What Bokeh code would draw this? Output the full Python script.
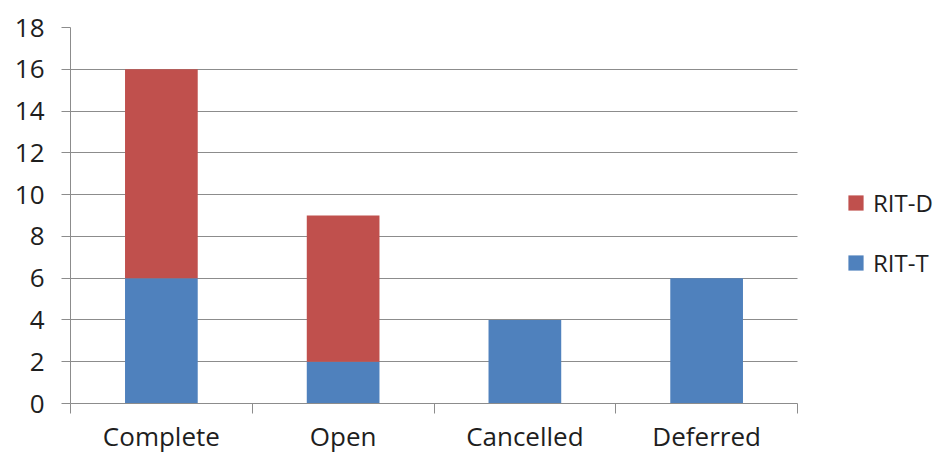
from bokeh.plotting import figure
from bokeh.models import Range1d, FixedTicker, Legend, LegendItem
from bokeh.embed import file_html
from bokeh.resources import INLINE

# Request counts by status, split by request type
categories = ["Complete", "Open", "Cancelled", "Deferred"]
rit_t = [6, 2, 4, 6]
rit_d = [10, 7, 0, 0]
y_ticks = list(range(0, 19, 2))

BLUE = "#4F81BD"
RED = "#C0504D"
GRID = "#8C8C8C"
TEXT = "#1E1E1E"
FONT = "Open Sans"

n = len(categories)
x_pos = [i + 0.5 for i in range(n)]
data = {"x": x_pos, "RIT-T": rit_t, "RIT-D": rit_d}

# The frame runs to the right edge so the legend can sit beside the bars;
# axis and grid lines are bounded to the category span.
PLOT_W, FRAME_LEFT, AREA_RIGHT = 942, 70, 797
x_end = n * (PLOT_W - FRAME_LEFT) / (AREA_RIGHT - FRAME_LEFT)

p = figure(
    width=PLOT_W, height=456,
    x_range=Range1d(0, x_end),
    y_range=Range1d(0, 18),
    output_backend="svg", toolbar_location=None,
    min_border_left=FRAME_LEFT, min_border_right=0,
    min_border_top=27, min_border_bottom=53,
)
p.outline_line_color = None
p.background_fill_color = "white"
p.border_fill_color = "white"

renderers = p.vbar_stack(
    ["RIT-T", "RIT-D"], x="x", width=0.4, source=data,
    color=[BLUE, RED], line_color=None,
)

# y axis
p.yaxis.ticker = FixedTicker(ticks=y_ticks)
p.yaxis.axis_line_color = GRID
p.yaxis.major_tick_line_color = GRID
p.yaxis.major_tick_out = 9
p.yaxis.major_tick_in = 0
p.yaxis.minor_tick_line_color = None
p.yaxis.major_label_standoff = 17
p.yaxis.major_label_text_font = FONT
p.yaxis.major_label_text_font_size = "26px"
p.yaxis.major_label_text_color = TEXT

# x axis: labels at category centres, separator ticks at boundaries
p.xaxis.bounds = (0, n)
p.xaxis.ticker = FixedTicker(ticks=x_pos, minor_ticks=list(range(n + 1)))
p.xaxis.major_label_overrides = {x: c for x, c in zip(x_pos, categories)}
p.xaxis.axis_line_color = GRID
p.xaxis.major_tick_line_color = None
p.xaxis.major_tick_out = 0
p.xaxis.major_tick_in = 0
p.xaxis.minor_tick_line_color = GRID
p.xaxis.minor_tick_out = 10
p.xaxis.minor_tick_in = 0
p.xaxis.major_label_standoff = 4
p.xaxis.major_label_text_font = FONT
p.xaxis.major_label_text_font_size = "26px"
p.xaxis.major_label_text_color = TEXT

p.xgrid.grid_line_color = None
p.ygrid.ticker = FixedTicker(ticks=y_ticks)
p.ygrid.cross_bounds = (0, n)
p.ygrid.grid_line_color = GRID
p.ygrid.grid_line_width = 1

legend = Legend(
    items=[
        LegendItem(label="RIT-D", renderers=[renderers[1]]),
        LegendItem(label="RIT-T", renderers=[renderers[0]]),
    ],
    location=(776, 124),
    padding=0, margin=0, spacing=27,
    glyph_width=19, glyph_height=19,
    label_standoff=8, label_height=30,
    label_text_font=FONT, label_text_font_size="24px",
    label_text_color=TEXT,
    border_line_color=None, background_fill_alpha=0,
)
p.add_layout(legend, "center")

open("out.html", "w").write(file_html(p, INLINE))
